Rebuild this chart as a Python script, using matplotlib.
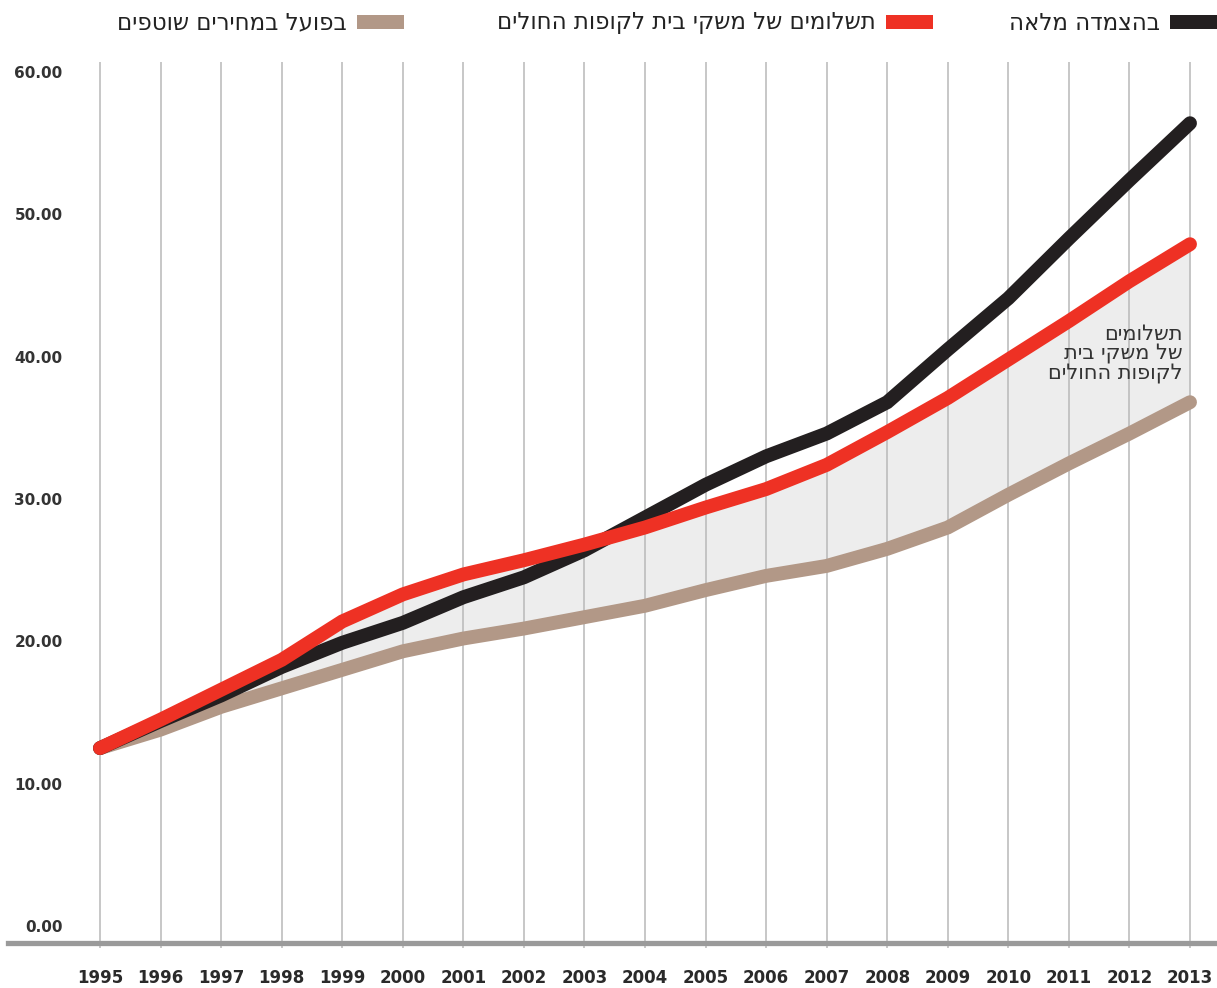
import matplotlib
matplotlib.use('Agg')
import matplotlib.pyplot as plt
from matplotlib.lines import Line2D
from matplotlib.patches import Rectangle

years = list(range(1995, 2014))
full_index = [12.5, 14.4, 16.2, 18.2, 19.9, 21.3, 23.1, 24.5, 26.4, 28.7, 31.0,
              33.0, 34.6, 36.8, 40.5, 44.1, 48.3, 52.4, 56.4]
payments = [12.5, 14.5, 16.6, 18.7, 21.4, 23.3, 24.7, 25.7, 26.8, 28.0, 29.4,
            30.7, 32.4, 34.7, 37.1, 39.8, 42.5, 45.3, 47.9]
actual = [12.5, 13.8, 15.4, 16.7, 18.0, 19.3, 20.2, 20.9, 21.7, 22.5, 23.6,
          24.6, 25.3, 26.5, 28.0, 30.3, 32.5, 34.6, 36.8]
y_ticks = [0, 10, 20, 30, 40, 50, 60]

label_full = 'בהצמדה מלאה'
label_payments = 'תשלומים של משקי בית לקופות החולים'
label_actual = 'בפועל במחירים שוטפים'
note_lines = ['תשלומים', 'של משקי בית', 'לקופות החולים']

BLACK = '#231f20'
RED = '#ee3124'
BROWN = '#b29887'


def rtl(s):
    # matplotlib has no bidi support, so flip Hebrew strings to visual order
    return s[::-1]


W, H = 1217, 988
fig = plt.figure(figsize=(W / 100, H / 100), dpi=100)
ax = fig.add_axes([100 / W, 1 - 943 / H, 1090 / W, 881 / H])
ax.set_xlim(1995, 2013)
ax.set_ylim(-1.19, 60.7)

ax.fill_between(years, actual, payments, color='#ededed', lw=0, zorder=1)
ax.vlines(years, -1.55, 60.7, color='#b8b8b8', lw=1.1, zorder=1.5, clip_on=False)

ax.plot(years, actual, color=BROWN, lw=10, solid_capstyle='round',
        solid_joinstyle='miter', zorder=3, clip_on=False)
ax.plot(years, full_index, color=BLACK, lw=10, solid_capstyle='round',
        solid_joinstyle='miter', zorder=4, clip_on=False)
ax.plot(years, payments, color=RED, lw=10, solid_capstyle='round',
        solid_joinstyle='miter', zorder=5, clip_on=False)

for s in ax.spines.values():
    s.set_visible(False)

ax.set_yticks(y_ticks)
ax.set_yticklabels([f'{v:.2f}' for v in y_ticks], fontsize=11,
                   fontweight='bold', color='#333333')
ax.set_xticks(years)
ax.set_xticklabels([str(y) for y in years], fontsize=12,
                   fontweight='bold', color='#2a2a2a')
ax.tick_params(axis='y', length=0, pad=27)
ax.tick_params(axis='x', length=0, pad=19)

# thick baseline under the plot
fig.add_artist(Line2D([8 / W, 1], [1 - 943 / H] * 2, color='#9a9a9a', lw=3.8))

ax.text(2012.87, 42.3, '\n'.join(rtl(l) for l in note_lines), ha='right',
        va='top', fontsize=15, color='#333333', linespacing=0.98, zorder=6)

# legend across the top, read right to left
legend_items = [(label_full, BLACK, 1170), (label_payments, RED, 886),
                (label_actual, BROWN, 357)]
for text, color, x0 in legend_items:
    fig.add_artist(Rectangle((x0 / W, 1 - 29 / H), 47 / W, 14 / H,
                             transform=fig.transFigure, color=color, lw=0))
    fig.text((x0 - 10) / W, 1 - 23 / H, rtl(text), ha='right', va='center',
             fontsize=16.5, color='#222222')

fig.savefig('out.png', dpi=100)
